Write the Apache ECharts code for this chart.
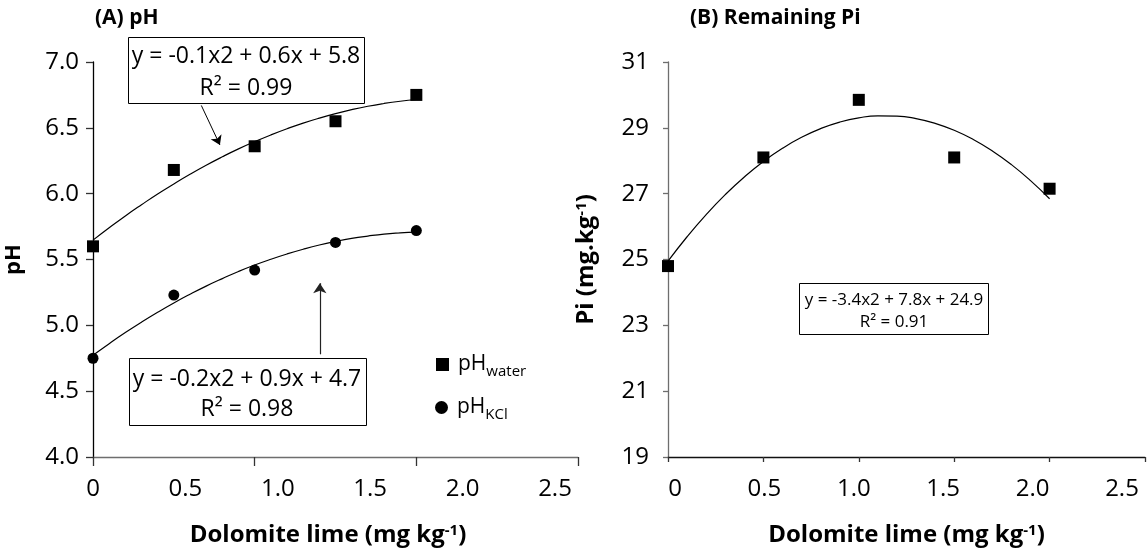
<!DOCTYPE html>
<html>
<head>
<meta charset="utf-8">
<script src="https://cdn.jsdelivr.net/npm/echarts@6.0.0/dist/echarts.min.js"></script>
<style>
  html, body { margin: 0; padding: 0; background: #fff; }
  #main { width: 1148px; height: 552px; }
</style>
</head>
<body>
<div id="main"></div>
<script>
  // measured values
  const doses = [0, 0.5, 1, 1.5, 2]
  const phWater = [5.6, 6.18, 6.36, 6.55, 6.75]
  const phKcl = [4.75, 5.23, 5.42, 5.63, 5.72]
  const remainingPi = [24.8, 28.1, 29.85, 28.1, 27.15]

  // trend curves
  const trendX = [0, 0.1, 0.2, 0.3, 0.4, 0.5, 0.6, 0.7, 0.8, 0.9, 1,
                  1.1, 1.2, 1.3, 1.4, 1.5, 1.6, 1.7, 1.8, 1.9, 2]
  const trendWater = [5.647, 5.741, 5.831, 5.916, 5.998, 6.074, 6.147, 6.216, 6.280, 6.340, 6.395,
                      6.446, 6.493, 6.536, 6.574, 6.608, 6.638, 6.664, 6.685, 6.702, 6.715]
  const trendKcl = [4.773, 4.861, 4.945, 5.024, 5.099, 5.170, 5.236, 5.298, 5.355, 5.409, 5.458,
                    5.502, 5.542, 5.578, 5.610, 5.637, 5.660, 5.678, 5.693, 5.702, 5.708]
  const trendPi = [24.949, 25.691, 26.365, 26.971, 27.508, 27.978, 28.379, 28.712, 28.977, 29.174, 29.303,
                   29.364, 29.356, 29.281, 29.137, 28.926, 28.646, 28.298, 27.882, 27.397, 26.845]

  const phTicks = ['4.0', '4.5', '5.0', '5.5', '6.0', '6.5', '7.0']
  const piTicks = ['19', '21', '23', '25', '27', '29', '31']
  const doseLabels = ['0', '0.5', '1.0', '1.5', '2.0', '2.5']

  const FONT = '"Open Sans", sans-serif'
  const pair = (xs, ys) => xs.map((x, i) => [x, ys[i]])

  const chart = echarts.init(document.getElementById('main'))

  const nameRich = {
    n: { fontFamily: FONT, fontWeight: 'bold', fontSize: 24, color: '#000' },
    sup: { fontFamily: FONT, fontWeight: 'bold', fontSize: 15, color: '#000', verticalAlign: 'top' }
  }
  const legendRich = {
    m: { fontFamily: FONT, fontSize: 21, color: '#000', padding: [0, 0, 0, 4] },
    s: { fontFamily: FONT, fontSize: 15, color: '#000', verticalAlign: 'bottom', padding: [14, 0, 0, 0] }
  }
  const tickFont = { fontFamily: FONT, fontSize: 24, color: '#000' }

  const hiddenY = (idx) => ({
    type: 'value', gridIndex: idx, show: false, min: 0, max: 1
  })

  let option = {
    animation: false,
    backgroundColor: '#fff',
    title: [
      { text: '(A) pH', left: 95, top: 8, padding: 0,
        textStyle: { fontFamily: FONT, fontWeight: 'bold', fontSize: 21, color: '#000' } },
      { text: '(B) Remaining Pi', left: 690, top: 8, padding: 0,
        textStyle: { fontFamily: FONT, fontWeight: 'bold', fontSize: 21, color: '#000' } }
    ],
    grid: [
      { left: 93, top: 62, width: 485, height: 395 },   // A data
      { left: 93, top: 62, width: 462, height: 395 },   // A dose labels
      { left: 668, top: 62, width: 477, height: 395 },  // B data
      { left: 675, top: 62, width: 447, height: 395 }   // B dose labels
    ],
    xAxis: [
      {
        type: 'value', gridIndex: 0, min: 0, max: 3, interval: 1,
        axisLine: { onZero: false, lineStyle: { color: '#6e6e6e', width: 1.3 } },
        axisTick: { show: true, length: 9, lineStyle: { color: '#333', width: 1.3 } },
        axisLabel: { show: false },
        splitLine: { show: false }
      },
      {
        type: 'value', gridIndex: 1, min: 0, max: 2.5, interval: 0.5,
        axisLine: { show: false }, axisTick: { show: false }, splitLine: { show: false },
        axisLabel: Object.assign({ margin: 20, formatter: (v) => doseLabels[Math.round(v * 2)] }, tickFont),
        name: '{n|Dolomite lime (mg kg}{sup|-1}{n|)}',
        nameLocation: 'middle', nameGap: 66,
        nameTextStyle: { rich: nameRich, padding: [0, 0, 0, 8] }
      },
      {
        type: 'value', gridIndex: 2, min: 0, max: 2.5, interval: 0.5,
        axisLine: { onZero: false, lineStyle: { color: '#111', width: 1.3 } },
        axisTick: { show: true, length: 5, lineStyle: { color: '#333', width: 1.3 } },
        axisLabel: { show: false },
        splitLine: { show: false },
        name: '{n|Dolomite lime (mg kg}{sup|-1}{n|)}',
        nameLocation: 'middle', nameGap: 66,
        nameTextStyle: { rich: nameRich }
      },
      {
        type: 'value', gridIndex: 3, min: 0, max: 2.5, interval: 0.5,
        axisLine: { show: false }, axisTick: { show: false }, splitLine: { show: false },
        axisLabel: Object.assign({ margin: 20, formatter: (v) => doseLabels[Math.round(v * 2)] }, tickFont)
      }
    ],
    yAxis: [
      {
        type: 'value', gridIndex: 0, min: 4, max: 7, interval: 0.5,
        axisLine: { show: true, onZero: false, lineStyle: { color: '#000', width: 1.3 } },
        axisTick: { show: true, length: 7, lineStyle: { color: '#333', width: 1.3 } },
        axisLabel: Object.assign({ margin: 14, formatter: (v) => phTicks[Math.round((v - 4) * 2)] }, tickFont),
        splitLine: { show: false },
        name: '{n|pH}', nameLocation: 'middle', nameGap: 68,
        nameTextStyle: { rich: { n: Object.assign({}, nameRich.n, { fontSize: 22 }) } }
      },
      hiddenY(1),
      {
        type: 'value', gridIndex: 2, min: 19, max: 31, interval: 2,
        axisLine: { show: true, onZero: false, lineStyle: { color: '#6e6e6e', width: 1.3 } },
        axisTick: { show: true, length: 5, lineStyle: { color: '#6e6e6e', width: 1.3 } },
        axisLabel: Object.assign({ margin: 19, formatter: (v) => piTicks[Math.round((v - 19) / 2)] }, tickFont),
        splitLine: { show: false },
        name: '{n|Pi (mg.kg}{sup|-1}{n|)}', nameLocation: 'middle', nameGap: 70,
        nameTextStyle: { rich: nameRich }
      },
      hiddenY(3)
    ],
    legend: [
      {
        data: [{ name: 'pH water', icon: 'rect', itemStyle: { color: '#000', opacity: 1 } }],
        left: 436, top: 354, itemWidth: 13, itemHeight: 13, padding: 0,
        selectedMode: false,
        formatter: '{m|pH}{s|water}',
        textStyle: { rich: legendRich }
      },
      {
        data: [{ name: 'pH KCl', icon: 'circle', itemStyle: { color: '#000', opacity: 1 } }],
        left: 435, top: 397, itemWidth: 13, itemHeight: 13, padding: 0,
        selectedMode: false,
        formatter: '{m|pH}{s|KCl}',
        textStyle: { rich: legendRich }
      }
    ],
    series: [
      {
        name: 'trend water', type: 'line', xAxisIndex: 0, yAxisIndex: 0,
        smooth: true, showSymbol: false, silent: true,
        lineStyle: { color: '#000', width: 1.2 },
        data: pair(trendX, trendWater),
        markLine: {
          silent: true, symbol: ['none', 'arrow'], symbolSize: 9,
          label: { show: false },
          lineStyle: { color: '#000', width: 1, type: 'solid' },
          data: [[{ coord: [0.67, 6.67] }, { coord: [0.785, 6.37] }]]
        }
      },
      {
        name: 'trend KCl', type: 'line', xAxisIndex: 0, yAxisIndex: 0,
        smooth: true, showSymbol: false, silent: true,
        lineStyle: { color: '#000', width: 1.2 },
        data: pair(trendX, trendKcl),
        markLine: {
          silent: true, symbol: ['none', 'arrow'], symbolSize: 10,
          label: { show: false },
          lineStyle: { color: '#222', width: 1.2, type: 'solid' },
          data: [[{ coord: [1.403, 4.78] }, { coord: [1.403, 5.32] }]]
        }
      },
      {
        name: 'pH water', type: 'scatter', xAxisIndex: 0, yAxisIndex: 0,
        symbol: 'rect', symbolSize: 12,
        itemStyle: { color: '#000', opacity: 1 },
        data: pair(doses, phWater)
      },
      {
        name: 'pH KCl', type: 'scatter', xAxisIndex: 0, yAxisIndex: 0,
        symbol: 'circle', symbolSize: 11,
        itemStyle: { color: '#000', opacity: 1 },
        data: pair(doses, phKcl)
      },
      {
        name: 'trend Pi', type: 'line', xAxisIndex: 2, yAxisIndex: 2,
        smooth: true, showSymbol: false, silent: true,
        lineStyle: { color: '#000', width: 1.2 },
        data: pair(trendX, trendPi)
      },
      {
        name: 'Remaining Pi', type: 'scatter', xAxisIndex: 2, yAxisIndex: 2,
        symbol: 'rect', symbolSize: 12,
        itemStyle: { color: '#000', opacity: 1 },
        data: pair(doses, remainingPi)
      }
    ],
    graphic: [
      // regression boxes
      { type: 'rect', shape: { x: 128.5, y: 37.5, width: 236, height: 66 },
        style: { fill: '#fff', stroke: '#000', lineWidth: 1 } },
      { type: 'text', style: { text: 'y = -0.1x2 + 0.6x + 5.8\nR² = 0.99', x: 246, y: 72,
        align: 'center', verticalAlign: 'middle', lineHeight: 32,
        fontFamily: FONT, fontSize: 23, fill: '#000' } },
      { type: 'rect', shape: { x: 129.5, y: 358.5, width: 237, height: 67 },
        style: { fill: '#fff', stroke: '#000', lineWidth: 1 } },
      { type: 'text', style: { text: 'y = -0.2x2 + 0.9x + 4.7\nR² = 0.98', x: 247, y: 394,
        align: 'center', verticalAlign: 'middle', lineHeight: 30,
        fontFamily: FONT, fontSize: 23, fill: '#000' } },
      { type: 'rect', shape: { x: 799.5, y: 283.5, width: 189, height: 51 },
        style: { fill: '#fff', stroke: '#000', lineWidth: 1 } },
      { type: 'text', style: { text: 'y = -3.4x2 + 7.8x + 24.9\nR² = 0.91', x: 894, y: 311,
        align: 'center', verticalAlign: 'middle', lineHeight: 22,
        fontFamily: FONT, fontSize: 17, fill: '#000' } }
    ]
  }

  chart.setOption(option)
</script>
</body>
</html>
